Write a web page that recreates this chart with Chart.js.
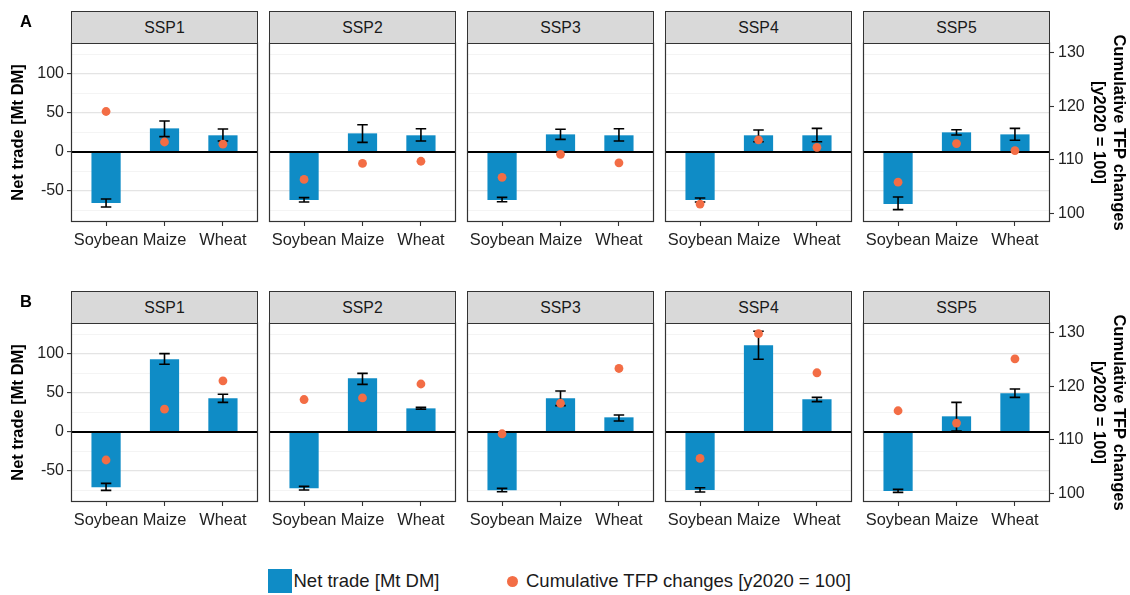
<!DOCTYPE html>
<html>
<head>
<meta charset="utf-8">
<script src="https://cdn.jsdelivr.net/npm/chart.js@4/dist/chart.umd.min.js"></script>
<style>
  body { margin: 0; background: #fff; font-family: 'Liberation Sans', Arial, sans-serif; }
  #fig { position: relative; width: 1130px; height: 595px; overflow: hidden; }
  canvas { position: absolute; }
  .strip {
    position: absolute; box-sizing: border-box; height: 33px;
    border: 1px solid #333; background: #d9d9d9; color: #1a1a1a;
    font-size: 15.8px; display: flex; align-items: center; justify-content: center;
  }
  .tag { position: absolute; font-weight: bold; font-size: 16.5px; line-height: 1; color: #000; }
  .lg { position: absolute; font-size: 18.5px; line-height: 24px; color: #1a1a1a; white-space: nowrap; }
</style>
</head>
<body>
<div id="fig"></div>
<script>
const crops = ['Soybean', 'Maize', 'Wheat'];
const scenarios = ['SSP1', 'SSP2', 'SSP3', 'SSP4', 'SSP5'];
const rowLabels = ['A', 'B'];

// A: net trade [Mt DM] per scenario (Soybean, Maize, Wheat)
const tradeA = [[-65.4, 30.3, 21.4], [-61.5, 23.9, 21.4], [-61.5, 22.6, 21.4], [-61.5, 21.4, 21.4], [-66.7, 25.2, 22.6]];
const tradeLowA = [[-70.5, 19.7, 14.1], [-64.1, 12.4, 14.1], [-63.7, 16.2, 14.1], [-64.1, 13.2, 13.2], [-73.9, 21.8, 15.0]];
const tradeHighA = [[-60.3, 39.7, 29.5], [-58.5, 35.0, 29.9], [-58.1, 29.1, 29.9], [-59.0, 28.2, 30.3], [-57.7, 28.6, 30.3]];
const tfpA = [[119.0, 113.3, 112.9], [106.3, 109.3, 109.7], [106.7, 111.0, 109.4], [101.7, 113.7, 112.3], [105.8, 113.0, 111.7]];

// B
const tradeB = [[-70.9, 93.2, 43.2], [-72.2, 68.8, 30.3], [-74.8, 43.2, 18.8], [-74.4, 111.1, 41.9], [-75.6, 20.1, 49.6]];
const tradeLowB = [[-74.8, 86.8, 38.0], [-74.4, 61.1, 29.1], [-76.5, 33.8, 14.1], [-76.9, 93.2, 38.9], [-77.4, 1.3, 44.4]];
const tradeHighB = [[-65.8, 100.4, 48.3], [-69.7, 75.2, 31.6], [-72.2, 52.6, 21.8], [-71.4, 129.1, 44.4], [-73.5, 38.0, 55.1]];
const tfpB = [[106.2, 115.7, 121.0], [117.5, 117.8, 120.4], [111.1, 116.8, 123.3], [106.5, 129.8, 122.5], [115.4, 113.1, 125.1]];

const tradeTicks = [-75, -50, -25, 0, 25, 50, 75, 100, 125];
const tfpTicks = [100, 110, 120, 130];

const barColor = '#0f8cc6';
const pointColor = '#f36d45';
const tickColor = '#222';

// panel geometry
const panelLeft = [71, 269, 467, 665, 863];
const panelW = 187;
const rowTop = [11, 291];
const stripH = 32;
const plotH = 179;
const axisH = 34;

Chart.defaults.font.family = "'Liberation Sans', Arial, sans-serif";
Chart.defaults.font.size = 16;
Chart.defaults.color = tickColor;

const fig = document.getElementById('fig');

// error bars + zero line after the bars, panel frame at the end
function makeDecor(low, high) {
  return {
    id: 'panelDecor',
    afterDatasetDraw(chart, args) {
      if (args.index !== 0) return;
      const ctx = chart.ctx, area = chart.chartArea;
      const x = chart.scales.x, y = chart.scales.y;
      ctx.save();
      ctx.strokeStyle = '#000';
      ctx.lineWidth = 1.8;
      const y0 = y.getPixelForValue(0);
      ctx.beginPath();
      ctx.moveTo(area.left, y0);
      ctx.lineTo(area.right, y0);
      ctx.stroke();
      ctx.lineWidth = 1.6;
      low.forEach((lo, i) => {
        const xc = x.getPixelForValue(i + 1);
        const xl = x.getPixelForValue(i + 1 - 0.09);
        const xr = x.getPixelForValue(i + 1 + 0.09);
        const yl = y.getPixelForValue(lo);
        const yh = y.getPixelForValue(high[i]);
        ctx.beginPath();
        ctx.moveTo(xc, yl); ctx.lineTo(xc, yh);
        ctx.moveTo(xl, yl); ctx.lineTo(xr, yl);
        ctx.moveTo(xl, yh); ctx.lineTo(xr, yh);
        ctx.stroke();
      });
      ctx.restore();
    },
    afterDraw(chart) {
      const ctx = chart.ctx, a = chart.chartArea;
      ctx.save();
      ctx.strokeStyle = '#333';
      ctx.lineWidth = 1.2;
      ctx.strokeRect(a.left + 0.5, a.top, a.right - a.left - 1, a.bottom - a.top - 0.5);
      ctx.restore();
    }
  };
}

function drawPanel(row, col, trade, low, high, tfp) {
  const isFirst = col === 0, isLast = col === 4;
  const padL = isFirst ? 0 : 5, yW = isFirst ? 71 : 0;
  const padR = isLast ? 0 : 5, y2W = isLast ? 80 : 0;
  const left = panelLeft[col] - padL - yW;
  const width = padL + yW + panelW + y2W + padR;
  const height = stripH + plotH + axisH;

  const canvas = document.createElement('canvas');
  canvas.width = width;
  canvas.height = height;
  canvas.style.left = left + 'px';
  canvas.style.top = rowTop[row] + 'px';
  fig.appendChild(canvas);

  const strip = document.createElement('div');
  strip.className = 'strip';
  strip.style.left = panelLeft[col] + 'px';
  strip.style.top = rowTop[row] + 'px';
  strip.style.width = panelW + 'px';
  strip.textContent = scenarios[col];
  fig.appendChild(strip);

  new Chart(canvas, {
    type: 'bar',
    data: {
      datasets: [
        {
          type: 'bar',
          label: 'Net trade [Mt DM]',
          data: crops.map((c, i) => ({ x: i + 1, y: trade[i] })),
          backgroundColor: barColor,
          borderWidth: 0,
          barPercentage: 0.5,
          categoryPercentage: 1,
          yAxisID: 'y',
          order: 1
        },
        {
          type: 'scatter',
          label: 'Cumulative TFP changes [y2020 = 100]',
          data: crops.map((c, i) => ({ x: i + 1, y: tfp[i] })),
          backgroundColor: pointColor,
          borderWidth: 0,
          pointRadius: 4.4,
          yAxisID: 'y2',
          order: 0
        }
      ]
    },
    options: {
      responsive: false,
      animation: false,
      devicePixelRatio: 1,
      events: [],
      layout: { padding: { top: stripH, left: padL, right: padR, bottom: 0 } },
      plugins: { legend: { display: false }, tooltip: { enabled: false } },
      scales: {
        x: {
          type: 'linear',
          min: 0.4,
          max: 3.6,
          offset: false,
          afterBuildTicks: s => { s.ticks = crops.map((c, i) => ({ value: i + 1 })); },
          afterFit: s => { s.height = axisH; },
          border: { display: false },
          grid: { offset: false, drawOnChartArea: false, drawTicks: true, tickLength: 4, tickColor: '#333', tickWidth: 1.1 },
          ticks: { padding: 4.5, maxRotation: 0, autoSkip: false, color: tickColor, font: { size: 16.4 }, callback: v => crops[v - 1] }
        },
        y: {
          min: -89.7,
          max: 139.7,
          afterBuildTicks: s => { s.ticks = tradeTicks.map(v => ({ value: v })); },
          afterFit: s => { s.width = yW; },
          border: { display: false },
          grid: {
            color: c => (c.tick && c.tick.value % 50 === 0) ? '#e4e4e4' : '#efefef',
            lineWidth: c => (c.tick && c.tick.value % 50 === 0) ? 1.2 : 0.7,
            drawTicks: isFirst,
            tickLength: 4,
            tickWidth: 1.1,
            tickColor: c => (c.tick && c.tick.value % 50 === 0) ? '#333' : 'rgba(0,0,0,0)'
          },
          ticks: { display: isFirst, padding: 3, color: tickColor, callback: v => (v % 50 === 0 ? v : '') },
          title: {
            display: isFirst,
            text: 'Net trade [Mt DM]',
            color: '#000',
            font: { size: 16.5, weight: 'bold', lineHeight: 1.27 },
            padding: { top: 7.8, bottom: 0 }
          }
        },
        y2: {
          display: isLast,
          position: 'right',
          min: 98.35,
          max: 131.8,
          afterBuildTicks: s => { s.ticks = tfpTicks.map(v => ({ value: v })); },
          afterFit: s => { s.width = y2W; },
          border: { display: false },
          grid: { drawOnChartArea: false, drawTicks: true, tickLength: 4, tickWidth: 1.1, tickColor: '#333' },
          ticks: { padding: 4, color: tickColor },
          title: {
            display: true,
            text: ['Cumulative TFP changes', '[y2020 = 100]'],
            color: '#000',
            font: { size: 16.5, weight: 'bold', lineHeight: 1.27 },
            padding: { top: 0.5, bottom: 0 }
          }
        }
      }
    },
    plugins: [makeDecor(low, high)]
  });
}

const rows = [
  [tradeA, tradeLowA, tradeHighA, tfpA],
  [tradeB, tradeLowB, tradeHighB, tfpB]
];
rows.forEach((r, row) => {
  scenarios.forEach((s, col) => drawPanel(row, col, r[0][col], r[1][col], r[2][col], r[3][col]));
  const tag = document.createElement('div');
  tag.className = 'tag';
  tag.style.left = '20px';
  tag.style.top = (rowTop[row] + 2) + 'px';
  tag.textContent = rowLabels[row];
  fig.appendChild(tag);
});

// legend
fig.insertAdjacentHTML('beforeend',
  '<div style="position:absolute;left:268px;top:569px;width:24px;height:24px;background:' + barColor + '"></div>' +
  '<div class="lg" style="left:293.5px;top:569px">Net trade [Mt DM]</div>' +
  '<div style="position:absolute;left:506.5px;top:575.5px;width:11px;height:11px;border-radius:50%;background:' + pointColor + '"></div>' +
  '<div class="lg" style="left:526px;top:569px">Cumulative TFP changes [y2020 = 100]</div>');
</script>
</body>
</html>
